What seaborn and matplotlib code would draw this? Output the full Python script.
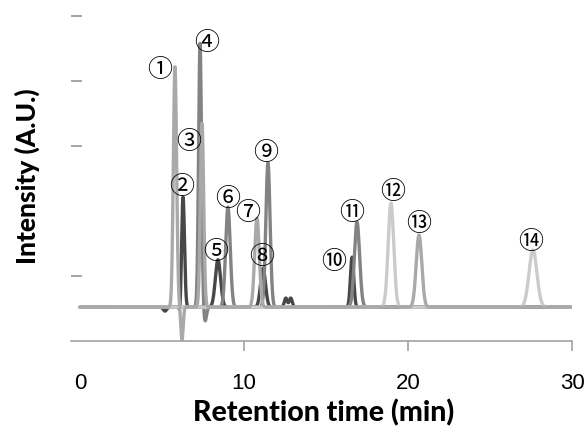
import numpy as np
import pandas as pd
import matplotlib
matplotlib.use("Agg")
import matplotlib.pyplot as plt
import seaborn as sns

# Numbered analyte peaks: retention time (min), height above baseline (A.U.),
# peak width (Gaussian sigma, min) and the run each peak belongs to
peak_time   = [5.79, 6.28, 7.44, 7.32, 8.41, 9.02, 10.79, 11.16, 11.46, 16.59, 16.89, 18.96, 20.67, 27.62]
peak_height = [3.70, 1.70, 2.83, 4.06, 0.73, 1.54, 1.37, 0.60, 2.22, 0.77, 1.31, 1.60, 1.11, 0.88]
peak_sigma  = [0.10, 0.09, 0.10, 0.09, 0.16, 0.14, 0.14, 0.15, 0.13, 0.10, 0.16, 0.17, 0.17, 0.24]
peak_run    = ["C", "A", "C", "B", "A", "B", "C", "A", "B", "A", "B", "D", "C", "D"]
peak_label  = ["①", "②", "③", "④", "⑤", "⑥", "⑦", "⑧", "⑨", "⑩", "⑪", "⑫", "⑬", "⑭"]

# Unlabelled features: injection dips and a small late bump
extra_time   = [5.18, 6.12, 6.22, 7.62, 12.55, 12.85]
extra_height = [-0.06, -0.18, -0.50, -0.22, 0.14, 0.14]
extra_sigma  = [0.10, 0.06, 0.07, 0.09, 0.09, 0.09]
extra_run    = ["A", "A", "C", "B", "A", "A"]

# Circled-number annotation anchors (min, A.U.)
label_time  = [4.88, 6.22, 6.65, 7.74, 8.29, 9.02, 10.24, 11.10, 11.34, 15.49, 16.59, 19.09, 20.67, 27.50]
label_level = [4.17, 2.37, 3.06, 4.58, 1.37, 2.18, 1.97, 1.29, 2.89, 1.22, 1.97, 2.29, 1.80, 1.52]

baseline = 0.52
runs = ["A", "B", "D", "C"]
run_colors = {"A": "#474747", "B": "#838383", "C": "#a9a9a9", "D": "#cbcbcb"}

# Build each chromatogram trace as baseline + Gaussian peaks
t = np.linspace(0, 30, 3001)
tables = []
for run in runs:
    signal = np.full_like(t, baseline)
    for tm, h, s, r in zip(peak_time + extra_time, peak_height + extra_height,
                           peak_sigma + extra_sigma, peak_run + extra_run):
        if r == run:
            signal += h * np.exp(-0.5 * ((t - tm) / s) ** 2)
    tables.append(pd.DataFrame({"time": t, "intensity": signal, "run": run}))
traces = pd.concat(tables, ignore_index=True)

sns.set_style("white")
fig = plt.figure(figsize=(5.87, 4.32), dpi=100)
ax = fig.add_axes([71 / 587, 1 - 341 / 432, 501 / 587, 336 / 432])

sns.lineplot(data=traces, x="time", y="intensity", hue="run", hue_order=runs,
             palette=run_colors, estimator=None, linewidth=2.4, legend=False,
             ax=ax)

for lab, x, y in zip(peak_label, label_time, label_level):
    ax.text(x, y, lab, ha="center", va="center", fontsize=18,
            family=["Noto Sans CJK JP", "DejaVu Sans"], color="black")

ax.set_xlim(-0.55, 30)
ax.set_ylim(0, 5.17)

for side in ["top", "right", "left"]:
    ax.spines[side].set_visible(False)
ax.spines["bottom"].set_color("#9a9a9a")
ax.spines["bottom"].set_linewidth(1.1)

ax.set_yticks([1, 3, 4, 5])
ax.set_yticklabels([])
ax.tick_params(axis="y", left=True, direction="in", length=8, width=1.1,
               color="#8c8c8c")

ax.set_xticks([0, 10, 20, 30])
ax.set_xticklabels(["0", "10", "20", "30"], family="Liberation Sans",
                   fontsize=16, color="black")
ax.tick_params(axis="x", bottom=True, direction="out", length=7, width=1.1,
               color="#9a9a9a", pad=16)
ax.xaxis.get_major_ticks()[0].tick1line.set_visible(False)

ax.set_xlabel("Retention time (min)", family=["Lato", "Liberation Sans"],
              fontweight="black", fontsize=20.5, color="black")
ax.xaxis.set_label_coords(0.505, -0.215)
ax.xaxis.label.set_verticalalignment("center")

ax.set_ylabel("Intensity (A.U.)", family=["Lato", "Liberation Sans"],
              fontweight="black", fontsize=19, color="black")
ax.yaxis.set_label_coords(-0.088, 0.491)
ax.yaxis.label.set_verticalalignment("center")

fig.savefig("out.png", dpi=100)
